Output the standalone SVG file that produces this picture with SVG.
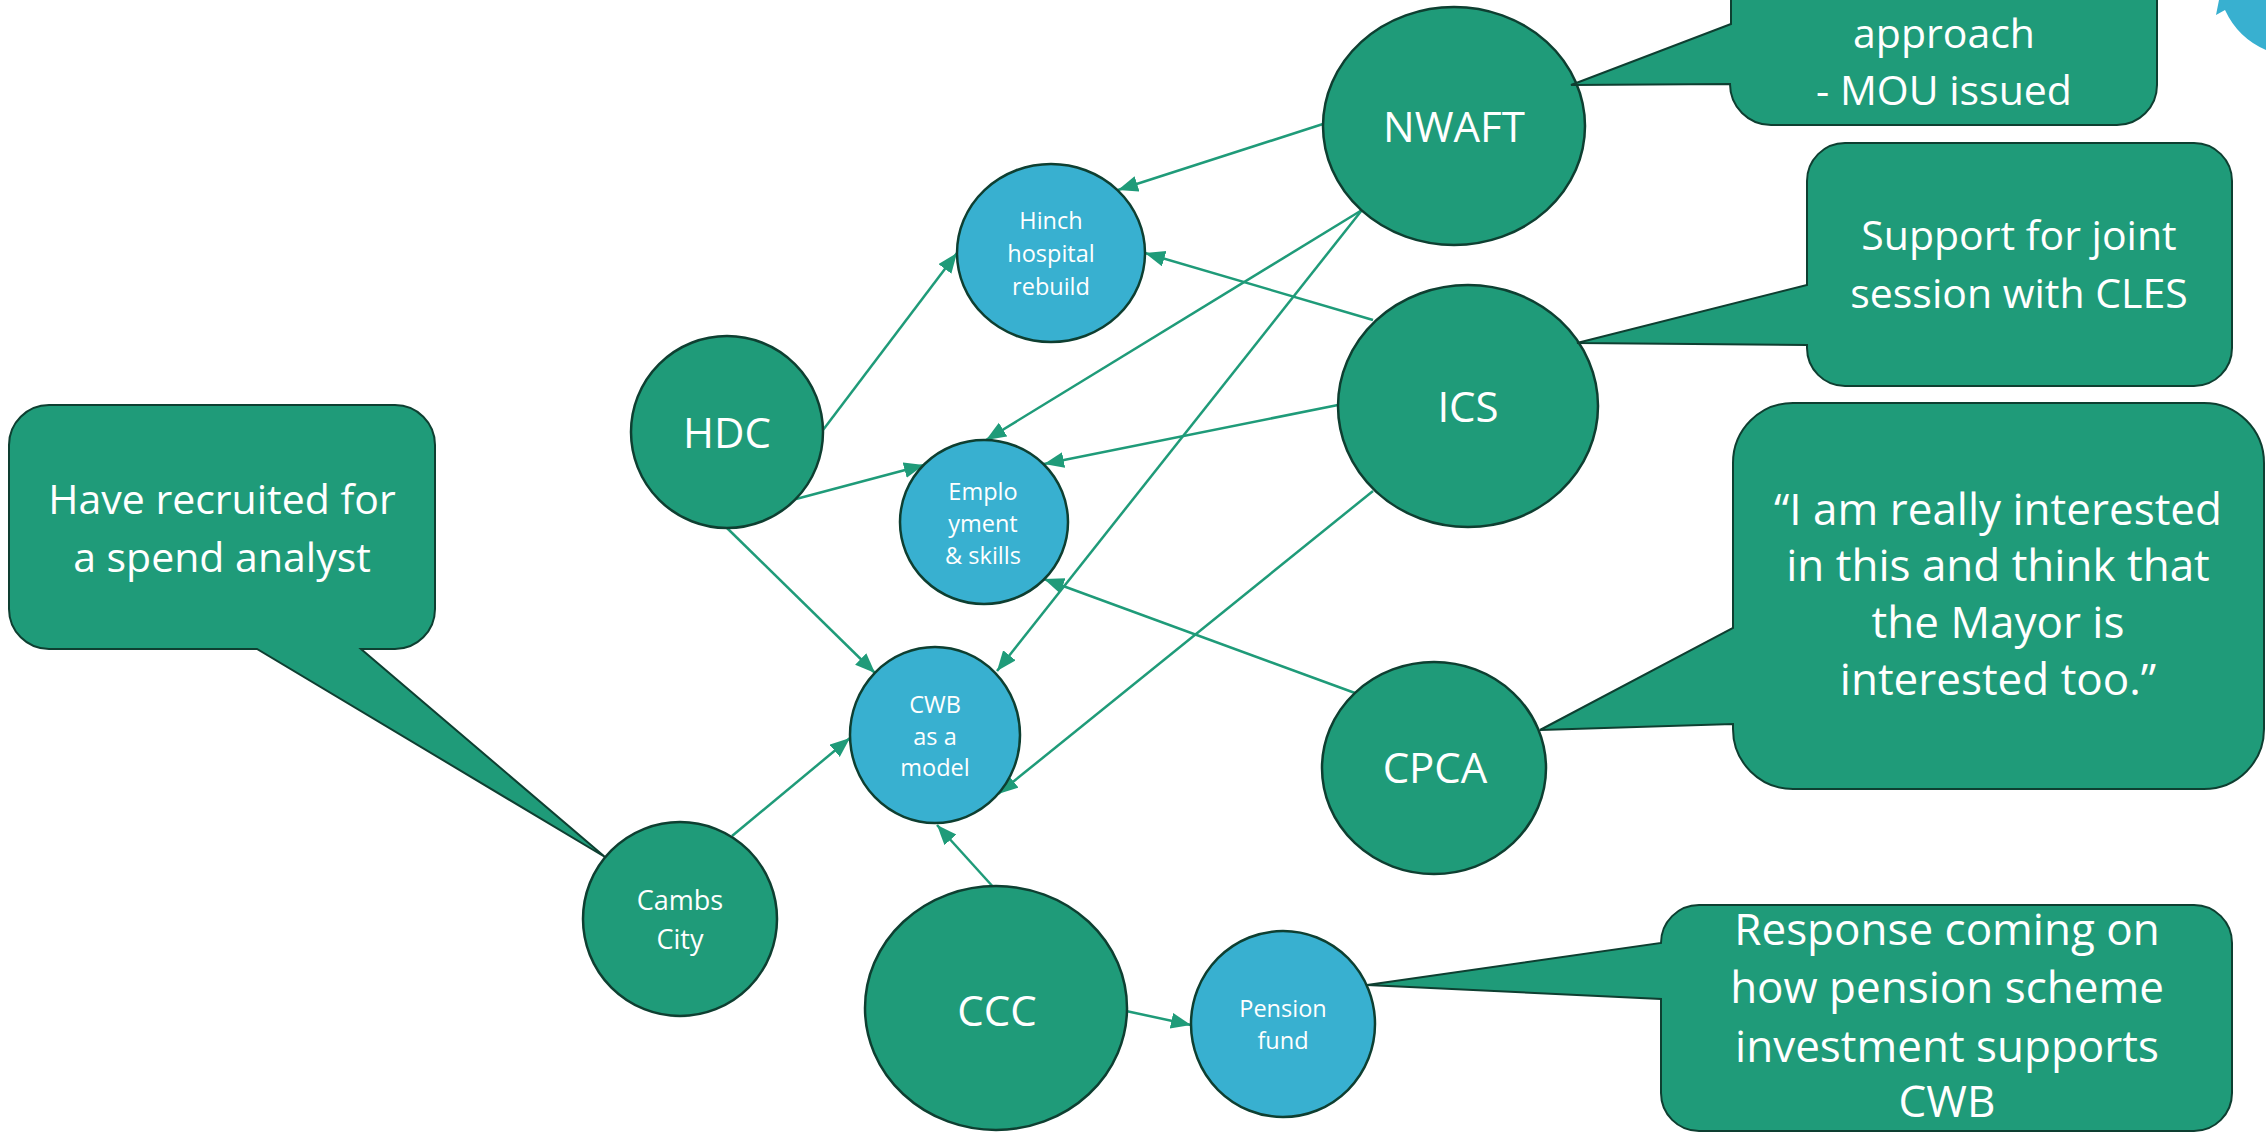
<svg xmlns="http://www.w3.org/2000/svg" width="2266" height="1132" viewBox="0 0 2266 1132">
<style>
.g{fill:#1f9b79;stroke:#0e3f31;stroke-width:2.5}
.b{fill:#38b0d0;stroke:#0e3f31;stroke-width:2.5}
.c{fill:#1f9b79;stroke:#0e3f31;stroke-width:2}
.e{stroke:#1f9b79;stroke-width:2.5;fill:none;marker-end:url(#ah)}
text{font-family:"Open Sans","Noto Sans",sans-serif;fill:#ffffff;text-anchor:middle}
.L{font-size:42px}
.M{font-size:41px}
.X{font-size:44px}
.S{font-size:23.5px}
.T{font-size:27px}
</style>
<defs>
<marker id="ah" markerUnits="userSpaceOnUse" markerWidth="22" markerHeight="18" refX="20" refY="8" orient="auto">
<path d="M0,0 L20,8 L0,16 Z" fill="#1f9b79"/>
</marker>
</defs>
<rect width="2266" height="1132" fill="#ffffff"/>
<path d="M2219,0 L2216,15 L2225,10 Q2238,38 2266,50 L2266,0 Z" fill="#38b0d0"/>
<g id="connectors">
<line class="e" x1="1323" y1="124" x2="1118" y2="190"/>
<line class="e" x1="823" y1="430" x2="957" y2="253"/>
<line class="e" x1="1373" y1="320" x2="1145" y2="253"/>
<line class="e" x1="1362" y1="210" x2="986" y2="440"/>
<line class="e" x1="1362" y1="210" x2="997" y2="671"/>
<line class="e" x1="1338" y1="405" x2="1044" y2="464"/>
<line class="e" x1="1373" y1="491" x2="998" y2="794"/>
<line class="e" x1="1355" y1="693" x2="1044" y2="579"/>
<line class="e" x1="796" y1="499" x2="924" y2="465"/>
<line class="e" x1="727" y1="528" x2="875" y2="673"/>
<line class="e" x1="732" y1="836" x2="850" y2="738"/>
<line class="e" x1="995" y1="889" x2="937" y2="825"/>
<line class="e" x1="1126" y1="1011" x2="1191" y2="1025"/>
</g>
<g id="nwaft"><ellipse class="g" cx="1454" cy="126" rx="131" ry="119"/><text class="L" x="1454" y="142">NWAFT</text></g>
<g id="ics"><ellipse class="g" cx="1468" cy="406" rx="130" ry="121"/><text class="L" x="1468" y="422">ICS</text></g>
<g id="cpca"><ellipse class="g" cx="1434" cy="768" rx="112" ry="106"/><text class="L" x="1435" y="783">CPCA</text></g>
<g id="hdc"><ellipse class="g" cx="727" cy="432" rx="96" ry="96"/><text class="L" x="727" y="448">HDC</text></g>
<g id="ccc"><ellipse class="g" cx="996" cy="1008" rx="131" ry="122"/><text class="L" x="997" y="1026">CCC</text></g>
<g id="cambs"><ellipse class="g" cx="680" cy="919" rx="97" ry="97"/><text class="T" x="680" y="910">Cambs</text><text class="T" x="680" y="949">City</text></g>
<g id="hinch"><ellipse class="b" cx="1051" cy="253" rx="94" ry="89"/><text class="S" x="1051" y="229">Hinch</text><text class="S" x="1051" y="262">hospital</text><text class="S" x="1051" y="295">rebuild</text></g>
<g id="employment"><ellipse class="b" cx="984" cy="522" rx="84" ry="82"/><text class="S" x="983" y="500">Emplo</text><text class="S" x="983" y="532">yment</text><text class="S" x="983" y="564">&amp; skills</text></g>
<g id="cwb"><ellipse class="b" cx="935" cy="735" rx="85" ry="88"/><text class="S" x="935" y="713">CWB</text><text class="S" x="935" y="745">as a</text><text class="S" x="935" y="776">model</text></g>
<g id="pension"><ellipse class="b" cx="1283" cy="1024" rx="92" ry="93"/><text class="S" x="1283" y="1017">Pension</text><text class="S" x="1283" y="1049">fund</text></g>
<g id="callout-spend">
<path class="c" d="M49,405 H395 A40,40 0 0 1 435,445 V609 A40,40 0 0 1 395,649 H361 L605,857 L257,649 H49 A40,40 0 0 1 9,609 V445 A40,40 0 0 1 49,405 Z"/>
<text class="M" x="222" y="514">Have recruited for</text><text class="M" x="222" y="572">a spend analyst</text>
</g>
<g id="callout-mou">
<path class="c" d="M1771,-200 H2117 A40,40 0 0 1 2157,-160 V85 A40,40 0 0 1 2117,125 H1771 A41,41 0 0 1 1730,84 L1571,85 L1731,24 V-160 A40,40 0 0 1 1771,-200 Z"/>
<text class="M" x="1944" y="48">approach</text><text class="M" x="1944" y="105">- MOU issued</text>
</g>
<g id="callout-cles">
<path class="c" d="M1845,143 H2194 A38,38 0 0 1 2232,181 V348 A38,38 0 0 1 2194,386 H1845 A38,38 0 0 1 1807,348 V345 L1577,343 L1807,285 V181 A38,38 0 0 1 1845,143 Z"/>
<text class="M" x="2019" y="250">Support for joint</text><text class="M" x="2019" y="308">session with CLES</text>
</g>
<g id="callout-mayor">
<path class="c" d="M1793,403 H2204 A60,60 0 0 1 2264,463 V729 A60,60 0 0 1 2204,789 H1793 A60,60 0 0 1 1733,729 V724 L1540,730 L1733,628 V463 A60,60 0 0 1 1793,403 Z"/>
<text class="X" x="1998" y="525">“I am really interested</text><text class="X" x="1998" y="581">in this and think that</text><text class="X" x="1998" y="638">the Mayor is</text><text class="X" x="1998" y="695">interested too.”</text>
</g>
<g id="callout-pension">
<path class="c" d="M1699,905 H2194 A38,38 0 0 1 2232,943 V1093 A38,38 0 0 1 2194,1131 H1699 A38,38 0 0 1 1661,1093 V999 L1367,985 L1661,943 A38,38 0 0 1 1699,905 Z"/>
<text class="X" x="1947" y="945">Response coming on</text><text class="X" x="1947" y="1003">how pension scheme</text><text class="X" x="1947" y="1062">investment supports</text><text class="X" x="1947" y="1117">CWB</text>
</g>
</svg>
